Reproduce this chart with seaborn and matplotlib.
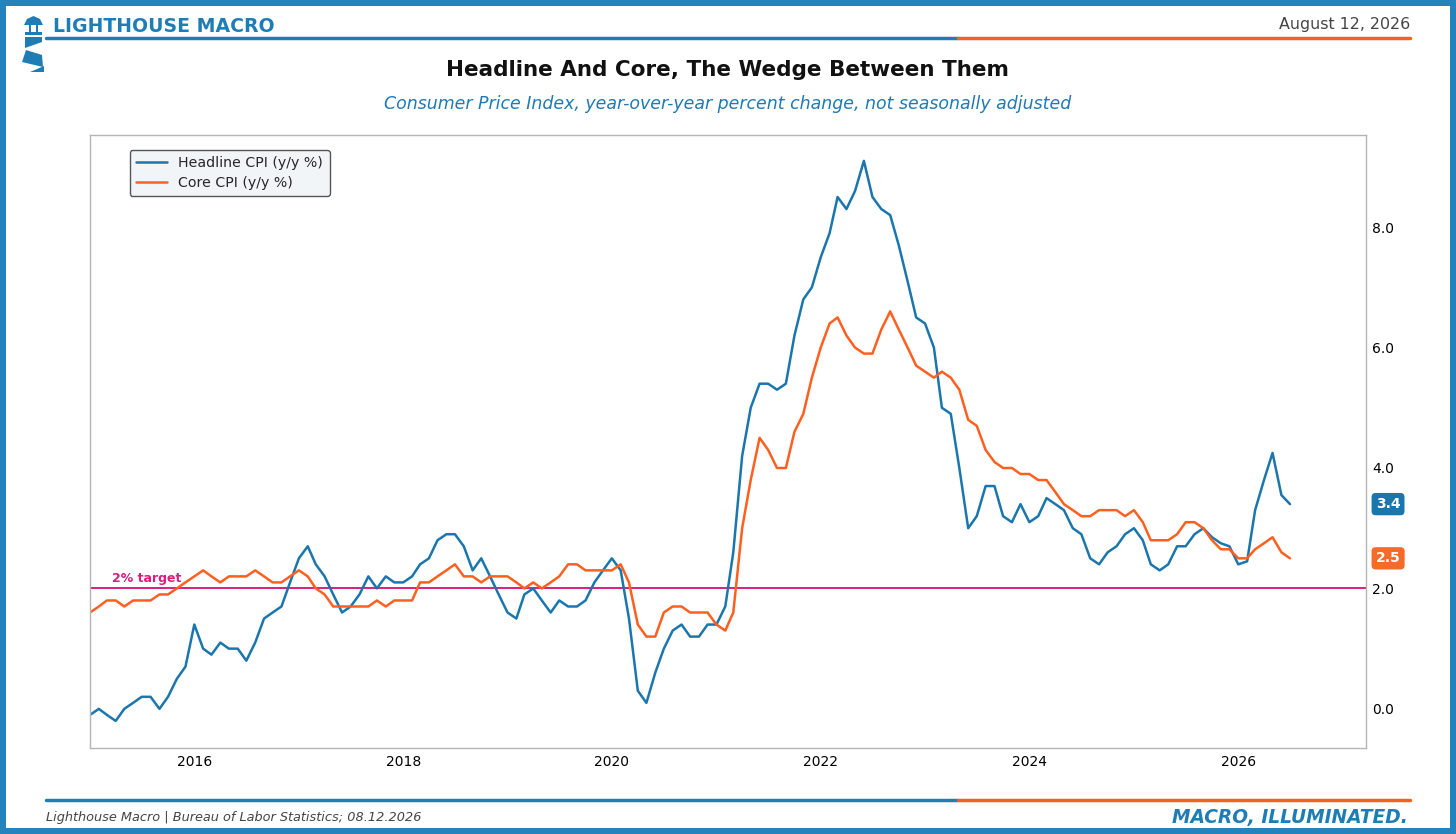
import pandas as pd
import numpy as np
import matplotlib
matplotlib.use("Agg")
import matplotlib.pyplot as plt
import matplotlib.dates as mdates
from matplotlib.patches import Polygon, Rectangle
import seaborn as sns

# --- data (y/y %, monthly, Jan 2015 .. Jul 2026) ---
start_month = "2015-01-01"
headline_cpi = [
    -0.1, 0.0, -0.1, -0.2, 0.0, 0.1, 0.2, 0.2, 0.0, 0.2, 0.5, 0.7,
    1.4, 1.0, 0.9, 1.1, 1.0, 1.0, 0.8, 1.1, 1.5, 1.6, 1.7, 2.1,
    2.5, 2.7, 2.4, 2.2, 1.9, 1.6, 1.7, 1.9, 2.2, 2.0, 2.2, 2.1,
    2.1, 2.2, 2.4, 2.5, 2.8, 2.9, 2.9, 2.7, 2.3, 2.5, 2.2, 1.9,
    1.6, 1.5, 1.9, 2.0, 1.8, 1.6, 1.8, 1.7, 1.7, 1.8, 2.1, 2.3,
    2.5, 2.3, 1.5, 0.3, 0.1, 0.6, 1.0, 1.3, 1.4, 1.2, 1.2, 1.4,
    1.4, 1.7, 2.6, 4.2, 5.0, 5.4, 5.4, 5.3, 5.4, 6.2, 6.8, 7.0,
    7.5, 7.9, 8.5, 8.3, 8.6, 9.1, 8.5, 8.3, 8.2, 7.7, 7.1, 6.5,
    6.4, 6.0, 5.0, 4.9, 4.0, 3.0, 3.2, 3.7, 3.7, 3.2, 3.1, 3.4,
    3.1, 3.2, 3.5, 3.4, 3.3, 3.0, 2.9, 2.5, 2.4, 2.6, 2.7, 2.9,
    3.0, 2.8, 2.4, 2.3, 2.4, 2.7, 2.7, 2.9, 3.0, 2.85, 2.75, 2.7,
    2.4, 2.45, 3.3, 3.8, 4.25, 3.55, 3.4,
]
core_cpi = [
    1.6, 1.7, 1.8, 1.8, 1.7, 1.8, 1.8, 1.8, 1.9, 1.9, 2.0, 2.1,
    2.2, 2.3, 2.2, 2.1, 2.2, 2.2, 2.2, 2.3, 2.2, 2.1, 2.1, 2.2,
    2.3, 2.2, 2.0, 1.9, 1.7, 1.7, 1.7, 1.7, 1.7, 1.8, 1.7, 1.8,
    1.8, 1.8, 2.1, 2.1, 2.2, 2.3, 2.4, 2.2, 2.2, 2.1, 2.2, 2.2,
    2.2, 2.1, 2.0, 2.1, 2.0, 2.1, 2.2, 2.4, 2.4, 2.3, 2.3, 2.3,
    2.3, 2.4, 2.1, 1.4, 1.2, 1.2, 1.6, 1.7, 1.7, 1.6, 1.6, 1.6,
    1.4, 1.3, 1.6, 3.0, 3.8, 4.5, 4.3, 4.0, 4.0, 4.6, 4.9, 5.5,
    6.0, 6.4, 6.5, 6.2, 6.0, 5.9, 5.9, 6.3, 6.6, 6.3, 6.0, 5.7,
    5.6, 5.5, 5.6, 5.5, 5.3, 4.8, 4.7, 4.3, 4.1, 4.0, 4.0, 3.9,
    3.9, 3.8, 3.8, 3.6, 3.4, 3.3, 3.2, 3.2, 3.3, 3.3, 3.3, 3.2,
    3.3, 3.1, 2.8, 2.8, 2.8, 2.9, 3.1, 3.1, 3.0, 2.8, 2.65, 2.65,
    2.5, 2.5, 2.65, 2.75, 2.85, 2.6, 2.5,
]
series_names = ["Headline CPI (y/y %)", "Core CPI (y/y %)"]
target_value = 2.0
y_ticks = [0.0, 2.0, 4.0, 6.0, 8.0]

BLUE = "#1a76ad"
ORANGE = "#ff5f1f"
FRAME = "#2383bd"
PINK = "#d81f7f"

dates = pd.date_range(start_month, periods=len(headline_cpi), freq="MS")
df = pd.concat([
    pd.DataFrame({"date": dates, "value": headline_cpi, "series": series_names[0]}),
    pd.DataFrame({"date": dates, "value": core_cpi, "series": series_names[1]}),
])

sns.set_theme(style="white")
plt.rcParams["font.family"] = ["DejaVu Sans"]

W, H = 1456, 834
fig = plt.figure(figsize=(W / 100, H / 100), dpi=100)
fig.patch.set_facecolor(FRAME)
fig.add_artist(Rectangle((6 / W, 6 / H), 1 - 12 / W, 1 - 12 / H,
                         transform=fig.transFigure, facecolor="white", edgecolor="none", zorder=0))

def fy(py):
    return 1 - py / H

ax = fig.add_axes([90 / W, fy(748), (1366 - 90) / W, (748 - 135) / H])
ax.set_facecolor("white")

sns.lineplot(data=df, x="date", y="value", hue="series", ax=ax,
             palette={series_names[0]: BLUE, series_names[1]: ORANGE},
             linewidth=1.8, legend=False)

ax.axhline(target_value, color=PINK, lw=1.4, zorder=1)
ax.text(0.017, target_value + 0.06, "2% target", transform=ax.get_yaxis_transform(),
        color=PINK, fontsize=9, fontweight="bold", ha="left", va="bottom")

ax.set_xlim(pd.Timestamp("2015-01-01"), pd.Timestamp("2027-03-24"))
ax.set_ylim(-0.65, 9.53)
ax.set_xlabel("")
ax.set_ylabel("")
ax.xaxis.set_major_locator(mdates.YearLocator(2))
ax.xaxis.set_major_formatter(mdates.DateFormatter("%Y"))
ax.yaxis.tick_right()
ax.set_yticks(y_ticks)
ax.set_yticklabels([f"{v:.1f}" for v in y_ticks])
ax.tick_params(axis="both", length=0, labelsize=10, colors="black")
ax.tick_params(axis="y", pad=4.5)
ax.tick_params(axis="x", pad=5)
for s in ax.spines.values():
    s.set_color("#b5b5b5")
    s.set_linewidth(1.0)

lines = ax.get_lines()[:2]
leg = ax.legend(lines, series_names, loc="upper left", bbox_to_anchor=(0.031, 0.976),
                borderaxespad=0, fontsize=10.2, frameon=True, fancybox=True,
                facecolor="#f2f5f8", edgecolor="#555555", framealpha=1,
                handlelength=2.2, borderpad=0.45, labelspacing=0.4)
leg.get_frame().set_linewidth(1.0)

# last-value badges
for vals, col in [(headline_cpi, BLUE), (core_cpi, "#f86a2a")]:
    ax.annotate(f"{vals[-1]:.1f}", xy=(1.0, vals[-1]), xycoords=("axes fraction", "data"),
                xytext=(7, 0), textcoords="offset points", ha="left", va="center",
                fontsize=10, fontweight="bold", color="white",
                bbox=dict(boxstyle="round,pad=0.3", fc=col, ec="none"))

# header / footer rules
for yy in (38, 800):
    fig.add_artist(plt.Line2D([46 / W, 958 / W], [fy(yy), fy(yy)], color="#1f7db6", lw=2.5))
    fig.add_artist(plt.Line2D([958 / W, 1410 / W], [fy(yy), fy(yy)], color="#f26322", lw=2.5))

fig.text(53 / W, fy(26), "LIGHTHOUSE MACRO", color="#1f7db6", fontsize=13.6,
         fontweight="bold", ha="left", va="center")
fig.text(1410 / W, fy(25), "August 12, 2026", color="#444444", fontsize=11.4,
         ha="right", va="center")
fig.text(0.5, fy(70), "Headline And Core, The Wedge Between Them", color="#111111",
         fontsize=15.5, fontweight="bold", ha="center", va="center")
fig.text(0.5, fy(104), "Consumer Price Index, year-over-year percent change, not seasonally adjusted",
         color="#1f7ab3", fontsize=12.5, style="italic", ha="center", va="center")
fig.text(46 / W, fy(818), "Lighthouse Macro | Bureau of Labor Statistics; 08.12.2026",
         color="#444444", fontsize=9.3, style="italic", ha="left", va="center")
fig.text(1408 / W, fy(818), "MACRO, ILLUMINATED.", color="#1f7db6", fontsize=13.4,
         fontweight="bold", style="italic", ha="right", va="center")

# lighthouse icon
icon_shapes = [
    [(24, 25), (27, 19), (33.5, 16), (40, 19), (43, 25)],
    [(25, 32), (42, 32), (42, 35), (25, 35)],
    [(29, 25), (31, 25), (31, 32), (29, 32)],
    [(36, 25), (38, 25), (38, 32), (36, 32)],
    [(25, 37), (42, 37), (42, 42), (25, 48)],
    [(26, 50), (42, 55), (43, 67), (22, 62)],
    [(44, 66), (44, 72), (30, 72)],
]
for pts in icon_shapes:
    fig.add_artist(Polygon([(x / W, fy(y)) for x, y in pts], closed=True,
                           transform=fig.transFigure, facecolor="#1f7db6", edgecolor="none"))

fig.savefig("out.png", dpi=100, facecolor=fig.get_facecolor())
